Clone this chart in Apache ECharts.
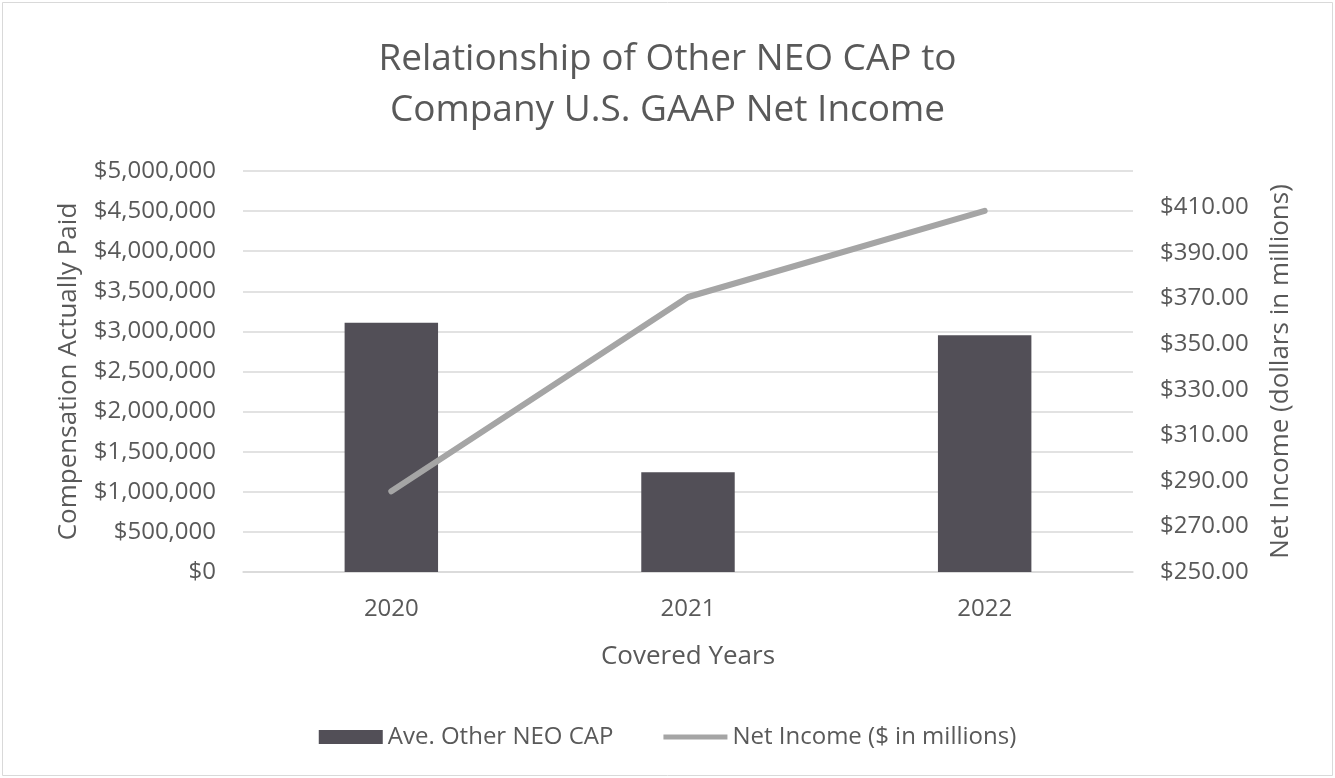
<!DOCTYPE html>
<html>
<head>
<meta charset="utf-8">
<script src="https://cdn.jsdelivr.net/npm/echarts@6/dist/echarts.min.js"></script>
<style>
html,body{margin:0;padding:0;background:#fff;}
#chart{width:1335px;height:778px;}
</style>
</head>
<body>
<div id="chart"></div>
<script>
const categories = ['2020', '2021', '2022'];
const capValues = [3107000, 1245000, 2953000];
const netIncome = [285.4, 370.7, 408.5];
const titleLines = ['Relationship of Other NEO CAP to', 'Company U.S. GAAP Net Income'];
const seriesNames = ['Ave. Other NEO CAP', 'Net Income ($ in millions)'];

const FONT = '"Open Sans", sans-serif';
const TXT = '#595959';
const chart = echarts.init(document.getElementById('chart'));
chart.setOption({
  animation: false,
  backgroundColor: '#fff',
  graphic: [{
    type: 'rect', shape: {x: 2.5, y: 2.5, width: 1330, height: 773},
    style: {fill: 'none', stroke: '#d9d9d9', lineWidth: 1}, silent: true
  }],
  title: {
    text: titleLines.join('\n'),
    left: 'center', top: 29,
    textStyle: {fontFamily: FONT, fontSize: 37, fontWeight: 'normal', color: TXT, lineHeight: 51}
  },
  legend: {
    bottom: 24, left: 'center',
    itemWidth: 64, itemHeight: 14, itemGap: 50,
    textStyle: {fontFamily: FONT, fontSize: 24, color: TXT},
    data: [
      {name: seriesNames[0], icon: 'rect'},
      {name: seriesNames[1], icon: 'path://M0,0 L0.01,0 L0.01,0.01 Z M0,4.5 L64,4.5 L64,9.5 L0,9.5 Z M0,14 L0.01,14 L0.01,13.99 Z',
       itemStyle: {color: '#a5a5a5', borderWidth: 0}}
    ]
  },
  grid: {left: 243, right: 202, top: 171, bottom: 206},
  xAxis: {
    type: 'category', data: categories,
    name: 'Covered Years', nameLocation: 'middle', nameGap: 72,
    nameTextStyle: {fontFamily: FONT, fontSize: 26, color: TXT},
    axisLine: {lineStyle: {color: '#d9d9d9', width: 1.5}},
    axisTick: {show: false},
    axisLabel: {fontFamily: FONT, fontSize: 24, color: TXT, margin: 25}
  },
  yAxis: [{
    type: 'value', min: 0, max: 5000000, interval: 500000,
    name: 'Compensation Actually Paid', nameLocation: 'middle', nameGap: 161, nameRotate: 90,
    nameTextStyle: {fontFamily: FONT, fontSize: 26, color: TXT},
    axisLine: {show: false}, axisTick: {show: false},
    axisLabel: {fontFamily: FONT, fontSize: 24, color: TXT, margin: 27,
      formatter: v => '$' + v.toLocaleString('en-US')},
    splitLine: {lineStyle: {color: '#d9d9d9', width: 1.5}}
  }, {
    type: 'value', min: 250, max: 426, interval: 20,
    name: 'Net Income (dollars in millions)', nameLocation: 'middle', nameGap: 135, nameRotate: 90,
    nameTextStyle: {fontFamily: FONT, fontSize: 26, color: TXT},
    axisLine: {show: false}, axisTick: {show: false},
    axisLabel: {fontFamily: FONT, fontSize: 24, color: TXT, margin: 27, showMaxLabel: false,
      formatter: v => '$' + v.toFixed(2)},
    splitLine: {show: false}
  }],
  series: [{
    name: seriesNames[0], type: 'bar', data: capValues, yAxisIndex: 0,
    barWidth: '31.5%', itemStyle: {color: '#524f57'}
  }, {
    name: seriesNames[1], type: 'line', data: netIncome, yAxisIndex: 1,
    symbol: 'none', lineStyle: {color: '#a5a5a5', width: 6, cap: 'round'},
    itemStyle: {color: '#a5a5a5'}
  }]
});
</script>
</body>
</html>
